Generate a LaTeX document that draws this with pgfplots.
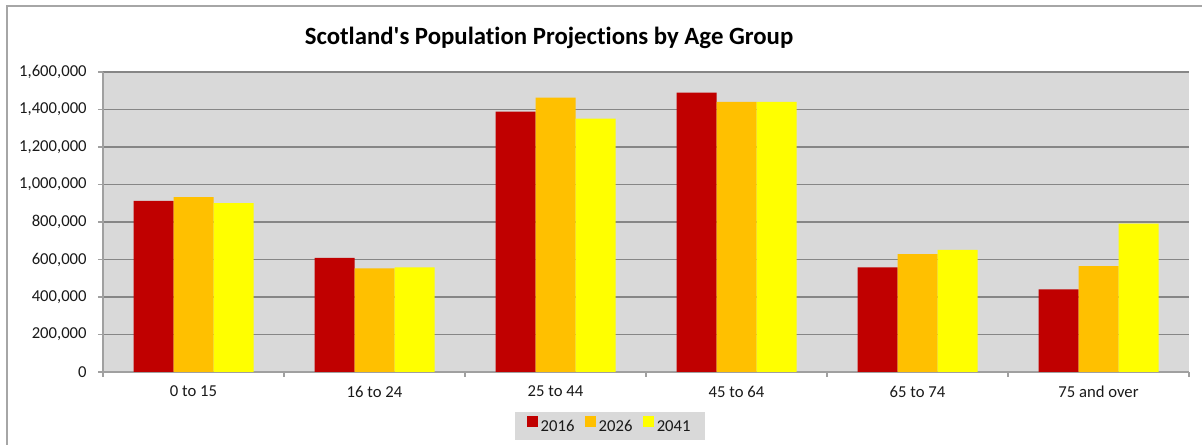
\documentclass[border=0pt]{standalone}
\usepackage{fontspec}
\setmainfont{Carlito}[Ligatures={TeXOff,NoCommon}]
\usepackage{pgfplots}
\pgfplotsset{compat=1.18}
\definecolor{c16}{HTML}{C00000}
\definecolor{c26}{HTML}{FFC000}
\definecolor{c41}{HTML}{FFFF00}
\definecolor{plotbg}{HTML}{D9D9D9}
\definecolor{gridc}{HTML}{868686}
\definecolor{axisc}{HTML}{A0A0A0}
\definecolor{framec}{HTML}{A6A6A6}
\begin{document}
\begin{tikzpicture}
\begin{scope}[x=0.75pt,y=0.75pt]
\path[use as bounding box] (0,0) rectangle (1202,445);
\draw[framec, line width=1pt] (7,0) -- (7,439) -- (1202,439);
\node[font=\bfseries\fontsize{18.6}{22}\selectfont] at (549,407) {Scotland's Population Projections by Age Group};
\end{scope}
\begin{axis}[
  at={(77.25pt,54.75pt)}, anchor=south west,
  scale only axis, width=814.5pt, height=225pt,
  xmin=-0.5, xmax=5.5, ymin=0, ymax=1600000,
  ybar=0pt, bar width=30pt,
  axis background/.style={fill=plotbg},
  axis x line*=bottom, axis y line*=left,
  axis line style={axisc, line width=0.9pt},
  ymajorgrids, grid style={gridc, line width=0.9pt},
  ytick={0,200000,400000,600000,800000,1000000,1200000,1400000,1600000},
  scaled y ticks=false,
  yticklabel style={/pgf/number format/fixed, /pgf/number format/1000 sep={,}, /pgf/number format/assume math mode=true, xshift=-5pt},
  tick label style={font=\fontsize{12.5}{14}\selectfont, text=black!90},
  tick align=outside,
  major tick length=3.75pt,
  tick style={axisc, line width=0.9pt},
  xtick={-0.5,0.5,1.5,2.5,3.5,4.5,5.5},
  xticklabels={},
  extra x ticks={0,1,2,3,4,5},
  extra x tick labels={0 to 15,16 to 24,25 to 44,45 to 64,65 to 74,75 and over},
  extra x tick style={major tick length=0pt, xticklabel style={yshift=-7pt}},
  legend style={at={(0.467,-0.18)}, anchor=center, fill=plotbg, draw=none,
    font=\fontsize{12.5}{14}\selectfont, text=black!90,
    inner xsep=9pt, inner ysep=3pt,
    /tikz/every even column/.append style={column sep=6pt}},
  legend columns=-1,
]
\addplot[fill=c16, draw=none, legend image code/.code={\fill[c16] (0pt,0pt) rectangle (8.2pt,8.2pt);}] coordinates {(0,913000) (1,608000) (2,1388000) (3,1490000) (4,558000) (5,441000)};
\addplot[fill=c26, draw=none, legend image code/.code={\fill[c26] (0pt,0pt) rectangle (8.2pt,8.2pt);}] coordinates {(0,933000) (1,553000) (2,1463000) (3,1440000) (4,628000) (5,565000)};
\addplot[fill=c41, draw=none, legend image code/.code={\fill[c41] (0pt,0pt) rectangle (8.2pt,8.2pt);}] coordinates {(0,901000) (1,558000) (2,1351000) (3,1440000) (4,651000) (5,791000)};
\legend{2016,2026,2041}
\end{axis}
\end{tikzpicture}
\end{document}
